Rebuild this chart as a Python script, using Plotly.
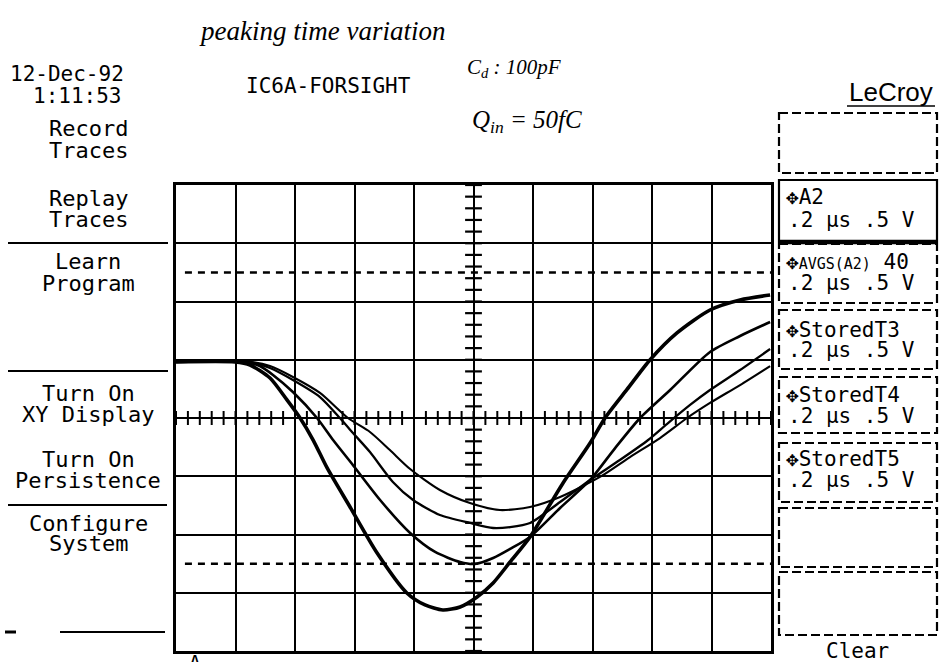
import plotly.graph_objects as go

W, H = 945, 665
MONO = "DejaVu Sans Mono"
HAND = "Liberation Serif"

# ---- waveform samples: time (µs) and amplitude (V), 0.2 µs/div, 0.5 V/div ----
t_a2 = [0.000, 0.198, 0.249, 0.316, 0.373, 0.417, 0.461, 0.508, 0.585, 0.676,
        0.776, 0.837, 0.897, 0.955, 1.012, 1.066, 1.123, 1.190, 1.301, 1.392,
        1.442, 1.516, 1.593, 1.684, 1.795, 1.896, 1.997]
v_a2 = [0.481, 0.481, 0.455, 0.343, 0.155, 0.000, -0.189, -0.429, -0.764, -1.159,
        -1.502, -1.605, -1.648, -1.622, -1.536, -1.416, -1.236, -1.021, -0.558, -0.215,
        0.000, 0.245, 0.498, 0.730, 0.927, 1.013, 1.056]

t_t3 = [0.000, 0.232, 0.282, 0.326, 0.393, 0.474, 0.528, 0.592, 0.686, 0.787,
        0.871, 0.955, 1.005, 1.066, 1.123, 1.190, 1.291, 1.392, 1.476, 1.560,
        1.661, 1.795, 1.896, 1.997]
v_t3 = [0.481, 0.481, 0.446, 0.369, 0.223, 0.000, -0.189, -0.395, -0.704, -0.987,
        -1.150, -1.236, -1.253, -1.202, -1.124, -1.021, -0.773, -0.532, -0.258, 0.000,
        0.240, 0.567, 0.704, 0.824]

t_t4 = [0.000, 0.249, 0.316, 0.393, 0.484, 0.551, 0.595, 0.652, 0.729, 0.797,
        0.887, 0.988, 1.066, 1.123, 1.190, 1.291, 1.392, 1.492, 1.587, 1.650,
        1.728, 1.795, 1.896, 1.997]
v_t4 = [0.481, 0.481, 0.429, 0.326, 0.180, 0.000, -0.129, -0.292, -0.549, -0.704,
        -0.833, -0.901, -0.944, -0.936, -0.901, -0.721, -0.532, -0.361, -0.189, -0.052,
        0.112, 0.240, 0.412, 0.592]

t_t5 = [0.000, 0.249, 0.316, 0.393, 0.484, 0.578, 0.652, 0.719, 0.787, 0.887,
        0.988, 1.089, 1.190, 1.291, 1.425, 1.526, 1.627, 1.718, 1.795, 1.896, 1.997]
v_t5 = [0.481, 0.481, 0.446, 0.352, 0.215, 0.000, -0.120, -0.275, -0.438, -0.618,
        -0.730, -0.790, -0.764, -0.678, -0.506, -0.335, -0.172, 0.000, 0.129, 0.283, 0.446]

# cursor / marker levels shown as dashed lines (V)
dash_levels = [1.25, -1.25]

# screen geometry: 10 x 8 divisions
t_span = [0.0, 2.0]
v_span = [-2.0, 2.0]
t_div, v_div = 0.2, 0.5

fig = go.Figure()

for t, v, name, w in [(t_a2, v_a2, "A2", 3.6), (t_t3, v_t3, "StoredT3", 2.6),
                      (t_t4, v_t4, "StoredT4", 2.3), (t_t5, v_t5, "StoredT5", 2.1)]:
    fig.add_trace(go.Scatter(x=t, y=v, mode="lines", name=name,
                             line=dict(color="black", width=w, shape="spline", smoothing=0.7),
                             hoverinfo="skip"))

# graticule centre cross with minor ticks (5 per division)
minor_v = [round(v_span[0] + i * v_div / 5, 3) for i in range(int((v_span[1] - v_span[0]) / (v_div / 5)) + 1)]
minor_t = [round(t_span[0] + i * t_div / 5, 3) for i in range(int((t_span[1] - t_span[0]) / (t_div / 5)) + 1)]
t_mid = (t_span[0] + t_span[1]) / 2
fig.add_trace(go.Scatter(x=[t_mid] * len(minor_v), y=minor_v, mode="markers",
                         marker=dict(symbol="line-ew", size=12, line=dict(color="black", width=2.2)),
                         hoverinfo="skip"))
fig.add_trace(go.Scatter(x=minor_t, y=[0] * len(minor_t), mode="markers",
                         marker=dict(symbol="line-ns", size=10, line=dict(color="black", width=2)),
                         hoverinfo="skip"))

shapes = []
for lv in dash_levels:
    shapes.append(dict(type="line", xref="x domain", yref="y", x0=0.015, x1=1.0, y0=lv, y1=lv,
                       line=dict(color="black", width=2.5, dash="7px,6px")))


def px(x):
    return x / W


def py(y):
    return 1 - y / H


def pline(x0, x1, y0, y1, width=2.2, dash="solid"):
    shapes.append(dict(type="line", xref="paper", yref="paper", x0=px(x0), x1=px(x1),
                       y0=py(y0), y1=py(y1), line=dict(color="black", width=width, dash=dash)))


def pbox(x0, x1, y0, y1, width=2.2, dash="9px,4px"):
    shapes.append(dict(type="rect", xref="paper", yref="paper", x0=px(x0), x1=px(x1),
                       y0=py(y0), y1=py(y1), line=dict(color="black", width=width, dash=dash)))


# left menu separators
pline(8, 168, 243, 243)
pline(8, 168, 371, 371)
pline(8, 167, 505, 505)
pline(5, 16, 632, 632, width=3)
pline(60, 165, 632, 632)

# right-hand trace panel
pline(847, 935, 106, 106, width=1.6)
pbox(779, 937, 113, 173)
pbox(779, 937, 180, 242, dash="solid")
pline(779, 937, 242, 242, width=4.5)
pbox(779, 937, 244, 303)
pbox(779, 937, 310, 369)
pbox(779, 937, 377, 433)
pbox(779, 937, 443, 502)
pbox(779, 937, 508, 567)
pbox(779, 937, 572, 635)

ann = []


def label(text, x, y, size=21, anchor="center", family=MONO, **kw):
    ann.append(dict(text=text, x=px(x), y=py(y), xref="paper", yref="paper",
                    xanchor=anchor, yanchor="middle", showarrow=False,
                    font=dict(family=family, size=size, color="black"), **kw))


# header
label("12-Dec-92", 8, 74, anchor="left")
label("1:11:53", 124, 96, anchor="right")
label("IC6A-FORSIGHT", 328, 86)
label("LeCroy", 891, 92, size=26, family="Liberation Sans")

# handwritten notes
label("<i>peaking time variation</i>", 322, 31, size=27, family=HAND)
label("<i>C<sub>d</sub> : 100pF</i>", 514, 68, size=21, family=HAND)
label("<i>Q<sub>in</sub> = 50fC</i>", 527, 122, size=25, family=HAND)

# left soft-key menu
menu = [("Record", 128), ("Traces", 150), ("Replay", 198), ("Traces", 219),
        ("Learn", 262), ("Program", 283), ("Turn On", 393), ("XY Display", 414),
        ("Turn On", 459), ("Persistence", 480), ("Configure", 523), ("System", 543)]
for txt, y in menu:
    label(txt, 88, y, size=22)

# right trace labels
scale_txt = ".2 µs .5 V"
label("✥A2", 784, 197, anchor="left")
label(scale_txt, 786, 220, anchor="left")
ann.append(dict(text="✥<span style='font-size:15px'>AVGS(A2)</span> 40", x=px(784), y=py(262),
                xref="paper", yref="paper", xanchor="left", yanchor="middle", showarrow=False,
                font=dict(family=MONO, size=21, color="black")))
label(scale_txt, 786, 283, anchor="left")
label("✥StoredT3", 784, 330, anchor="left")
label(scale_txt, 786, 350, anchor="left")
label("✥StoredT4", 784, 395, anchor="left")
label(scale_txt, 786, 416, anchor="left")
label("✥StoredT5", 784, 459, anchor="left")
label(scale_txt, 786, 480, anchor="left")
label("Clear", 857, 651)

# trigger marker under the grid
label("<b>ʌ</b>", 195, 657, size=13)

fig.update_layout(
    width=W, height=H, margin=dict(l=0, r=0, t=0, b=0),
    paper_bgcolor="white", plot_bgcolor="white", showlegend=False,
    shapes=shapes, annotations=ann,
    xaxis=dict(domain=[px(176), px(771)], range=t_span, dtick=t_div, tick0=0,
               showgrid=True, gridcolor="black", gridwidth=1.8, zeroline=False,
               showticklabels=False, ticks="", showline=True, mirror=True,
               linecolor="black", linewidth=2.5),
    yaxis=dict(domain=[py(651), py(185)], range=v_span, dtick=v_div, tick0=0,
               showgrid=True, gridcolor="black", gridwidth=2.4, zeroline=False,
               showticklabels=False, ticks="", showline=True, mirror=True,
               linecolor="black", linewidth=2.5),
)

fig.write_html("out.html")
